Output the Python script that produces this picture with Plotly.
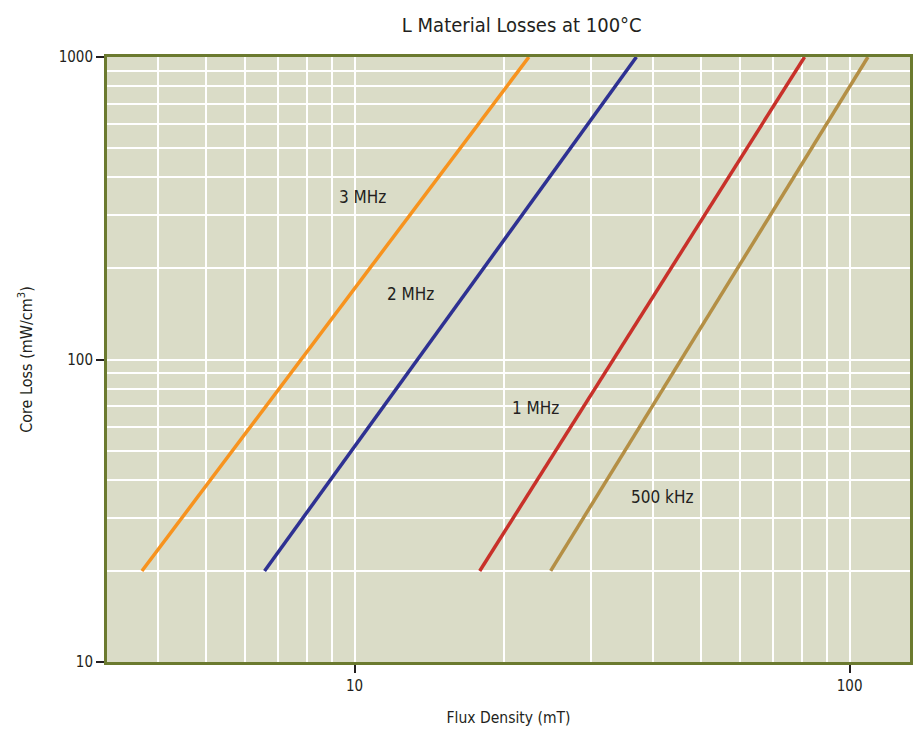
import plotly.graph_objects as go
import math

# Data (flux density in mT, core loss in mW/cm^3)
series_names = ["3 MHz", "2 MHz", "1 MHz", "500 kHz"]
flux_3mhz = [3.72, 22.5]
loss_3mhz = [20, 1000]
flux_2mhz = [6.58, 37.1]
loss_2mhz = [20, 1000]
flux_1mhz = [17.9, 81.1]
loss_1mhz = [20, 1000]
flux_500khz = [24.9, 108.9]
loss_500khz = [20, 1000]

label_x = [10.37, 13.0, 23.2, 41.8]
label_y = [344, 165, 69, 35]

x_major = [10, 100]
x_minor = [4, 5, 6, 7, 8, 9, 20, 30, 40, 50, 60, 70, 80, 90]
y_major = [10, 100, 1000]
y_minor = [20, 30, 40, 50, 60, 70, 80, 90, 200, 300, 400, 500, 600, 700, 800, 900]

colors = ["#f7931e", "#2e3192", "#c8312a", "#b48f45"]
FONT = "DejaVu Sans Condensed, Liberation Sans Narrow, sans-serif"
TXT = "#231f20"

fig = go.Figure()
for xs, ys, c, n in zip([flux_3mhz, flux_2mhz, flux_1mhz, flux_500khz],
                        [loss_3mhz, loss_2mhz, loss_1mhz, loss_500khz],
                        colors, series_names):
    fig.add_trace(go.Scatter(x=xs, y=ys, mode="lines", name=n,
                             line=dict(color=c, width=3.5), showlegend=False))

for n, lx, ly in zip(series_names, label_x, label_y):
    fig.add_annotation(x=math.log10(lx), y=math.log10(ly), text=n, showarrow=False,
                       font=dict(family=FONT, size=17, color=TXT))

fig.update_layout(
    width=917, height=730,
    margin=dict(l=107, r=7, t=57, b=68),
    paper_bgcolor="white",
    plot_bgcolor="#dadcc7",
    title=dict(text="L Material Losses at 100°C", x=0.569, xanchor="center",
               y=0.966, yanchor="middle",
               font=dict(family=FONT, size=20, color=TXT)),
    font=dict(family=FONT, color=TXT),
)

fig.update_xaxes(
    type="log", range=[0.5, 2.122],
    tickvals=x_major, ticktext=[str(v) for v in x_major],
    ticks="outside", ticklen=8, tickwidth=2, tickcolor="#231f20",
    tickfont=dict(family=FONT, size=15, color=TXT),
    showgrid=True, gridcolor="white", gridwidth=2,
    minor=dict(tickvals=x_minor, showgrid=True, gridcolor="white", gridwidth=2, ticks=""),
    showline=True, linecolor="#6b7a2f", linewidth=3, mirror=True,
    zeroline=False, automargin=False,
    title=dict(text="Flux Density (mT)", standoff=19,
               font=dict(family=FONT, size=15.5, color=TXT)),
)
fig.update_yaxes(
    type="log", range=[1, 3],
    tickvals=y_major, ticktext=[str(v) for v in y_major],
    ticks="outside", ticklen=8, tickwidth=2, tickcolor="#231f20",
    tickfont=dict(family=FONT, size=15, color=TXT),
    showgrid=True, gridcolor="white", gridwidth=2,
    minor=dict(tickvals=y_minor, showgrid=True, gridcolor="white", gridwidth=2, ticks=""),
    showline=True, linecolor="#6b7a2f", linewidth=3, mirror=True,
    zeroline=False, automargin=False,
    title=dict(text="Core Loss (mW/cm<sup>3</sup>)", standoff=23,
               font=dict(family=FONT, size=16, color=TXT)),
)

fig.write_html("out.html", config={"displayModeBar": False},
               post_script="document.body.style.margin='0';document.body.style.padding='0';")
